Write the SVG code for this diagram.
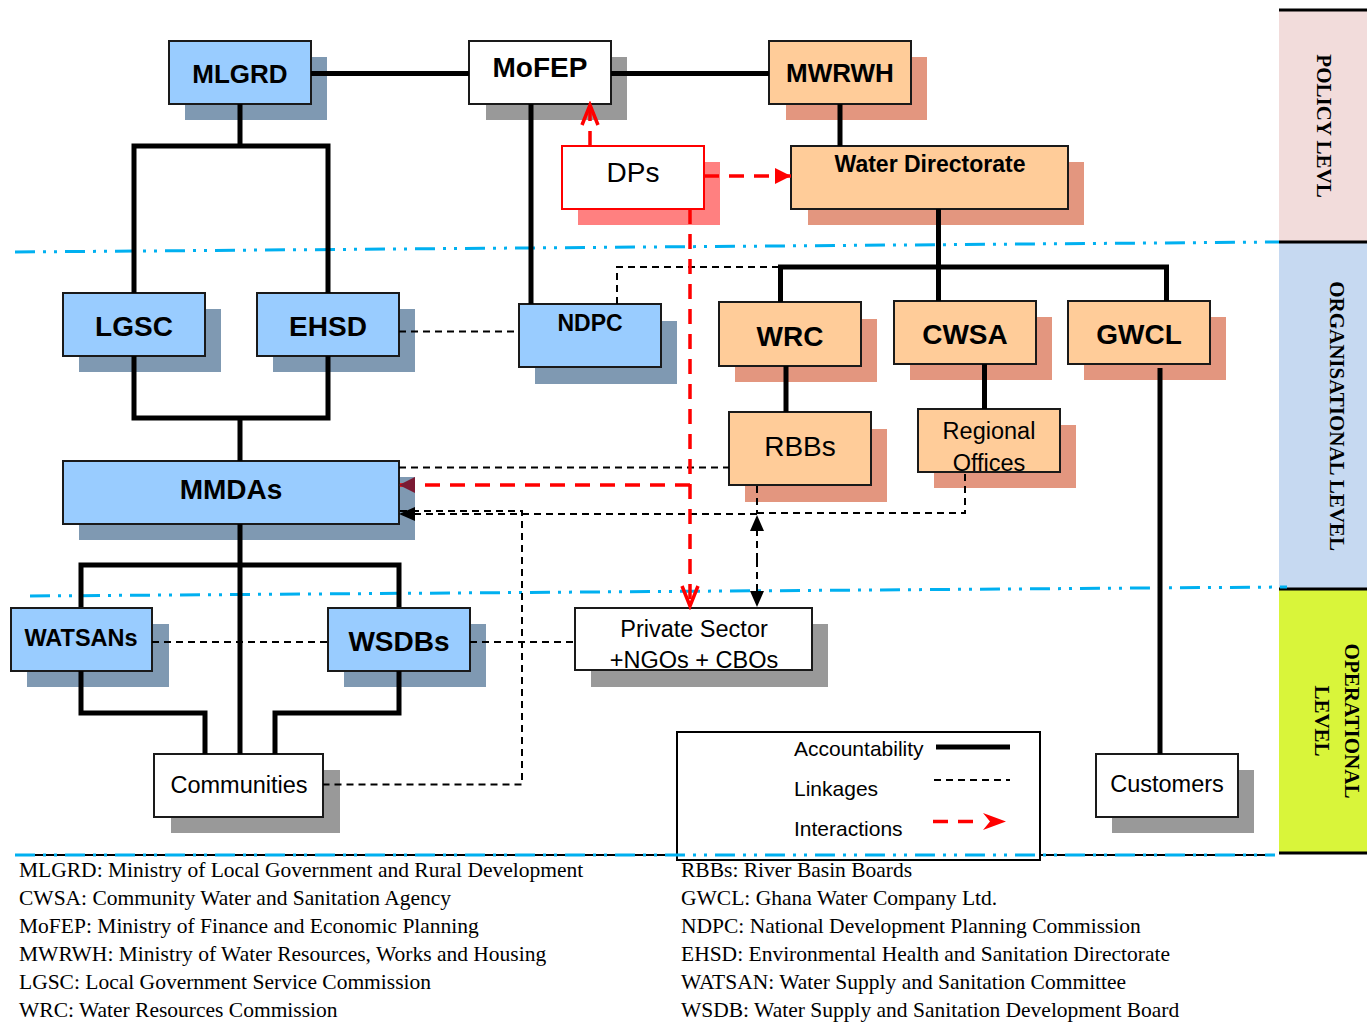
<svg xmlns="http://www.w3.org/2000/svg" width="1371" height="1026" viewBox="0 0 1371 1026">
<defs>
<style>
.box{stroke:#1a1a1a;stroke-width:2}
.blue{fill:#99ccff}
.bsh{fill:#7f99b2}
.peach{fill:#ffcc99}
.psh{fill:#e3967f}
.wht{fill:#ffffff}
.gsh{fill:#999999}
.t{font-family:"Liberation Sans",Arial,sans-serif;text-anchor:middle;fill:#000}
.b{font-weight:bold}
.acc{fill:none;stroke:#000;stroke-width:5}
.lnk{fill:none;stroke:#000;stroke-width:2;stroke-dasharray:7 5}
.int{fill:none;stroke:#ff0000;stroke-width:3.5;stroke-dasharray:15 10}
.lvl{fill:none;stroke:#00b0f0;stroke-width:3;stroke-dasharray:20 8 3 8 3 8}
.ser{font-family:"Liberation Serif","Times New Roman",serif;fill:#000;font-size:21.5px}
.side{font-family:"Liberation Serif","Times New Roman",serif;font-weight:bold;font-size:21px;text-anchor:middle;fill:#000}
</style>
<marker id="ab" markerUnits="userSpaceOnUse" markerWidth="16" markerHeight="14" viewBox="0 0 16 14" refX="16" refY="7" orient="auto"><path d="M0,0 L16,7 L0,14 z" fill="#000"/></marker>
<marker id="ar" markerUnits="userSpaceOnUse" markerWidth="16" markerHeight="16" viewBox="0 0 16 16" refX="16" refY="8" orient="auto"><path d="M0,0 L16,8 L0,16 z" fill="#ff0000"/></marker>
<marker id="ad" markerUnits="userSpaceOnUse" markerWidth="16" markerHeight="16" viewBox="0 0 16 16" refX="16" refY="8" orient="auto"><path d="M0,0 L16,8 L0,16 z" fill="#7b1a33"/></marker>
<marker id="ach" markerUnits="userSpaceOnUse" markerWidth="26" markerHeight="22" viewBox="0 0 26 22" refX="22" refY="11" orient="auto"><path d="M2,3 L22,11 L2,19" fill="none" stroke="#ff0000" stroke-width="3.5"/></marker>
</defs>

<g id="bands">
<rect x="1279" y="10" width="88" height="232" fill="#f2dcdb"/>
<rect x="1279" y="242" width="88" height="347" fill="#c6d9f1"/>
<rect x="1279" y="589" width="88" height="264" fill="#d9f53a"/>
<path d="M1279,10 H1367 M1279,242 H1367 M1279,589 H1367 M1279,853 H1367" stroke="#000" stroke-width="3"/>
<text class="side" transform="translate(1317,126) rotate(90)">POLICY LEVL</text>
<text class="side" transform="translate(1330,416) rotate(90)">ORGANISATIONAL LEVEL</text>
<text class="side" transform="translate(1345,721) rotate(90)">OPERATIONAL</text>
<text class="side" transform="translate(1315,721) rotate(90)">LEVEL</text>
</g>

<g id="level-lines">
<path class="lvl" d="M15,252 L1279,242"/>
<path class="lvl" d="M30,596 L1287,587"/>
</g>

<g id="MLGRD"><rect class="bsh" x="185" y="57" width="142" height="63"/><rect class="box blue" x="169" y="41" width="142" height="63"/><text class="t b" x="240" y="83" font-size="26">MLGRD</text></g>
<g id="MoFEP"><rect class="gsh" x="486" y="57" width="141" height="63"/><rect class="box wht" x="469" y="41" width="142" height="63"/><text class="t b" x="540" y="77" font-size="28">MoFEP</text></g>
<g id="MWRWH"><rect class="psh" x="786" y="57" width="141" height="63"/><rect class="box peach" x="769" y="41" width="142" height="63"/><text class="t b" x="840" y="82" font-size="26">MWRWH</text></g>
<g id="DPs"><rect fill="#ff8080" x="578" y="162" width="142" height="63"/><rect class="wht" stroke="#ff0000" stroke-width="2" x="562" y="146" width="142" height="63"/><text class="t" x="633" y="182" font-size="28">DPs</text></g>
<g id="WaterDirectorate"><rect class="psh" x="808" y="162" width="276" height="63"/><rect class="box peach" x="791" y="146" width="277" height="63"/><text class="t b" x="930" y="172" font-size="23">Water Directorate</text></g>
<g id="LGSC"><rect class="bsh" x="79" y="309" width="142" height="63"/><rect class="box blue" x="63" y="293" width="142" height="63"/><text class="t b" x="134" y="336" font-size="28">LGSC</text></g>
<g id="EHSD"><rect class="bsh" x="273" y="309" width="142" height="63"/><rect class="box blue" x="257" y="293" width="142" height="63"/><text class="t b" x="328" y="336" font-size="28">EHSD</text></g>
<g id="NDPC"><rect class="bsh" x="535" y="321" width="142" height="63"/><rect class="box blue" x="519" y="304" width="142" height="63"/><text class="t b" x="590" y="331" font-size="23">NDPC</text></g>
<g id="WRC"><rect class="psh" x="735" y="319" width="142" height="63"/><rect class="box peach" x="719" y="302" width="142" height="64"/><text class="t b" x="790" y="346" font-size="28">WRC</text></g>
<g id="CWSA"><rect class="psh" x="910" y="317" width="142" height="63"/><rect class="box peach" x="894" y="301" width="142" height="63"/><text class="t b" x="965" y="344" font-size="28">CWSA</text></g>
<g id="GWCL"><rect class="psh" x="1084" y="317" width="142" height="63"/><rect class="box peach" x="1068" y="301" width="142" height="63"/><text class="t b" x="1139" y="344" font-size="28">GWCL</text></g>
<g id="RBBs"><rect class="psh" x="745" y="429" width="142" height="73"/><rect class="box peach" x="729" y="412" width="142" height="73"/><text class="t" x="800" y="456" font-size="28">RBBs</text></g>
<g id="RegionalOffices"><rect class="psh" x="934" y="425" width="142" height="63"/><rect class="box peach" x="918" y="409" width="142" height="63"/><text class="t" x="989" y="439" font-size="23.5">Regional</text><text class="t" x="989" y="471" font-size="23.5">Offices</text></g>
<g id="MMDAs"><rect class="bsh" x="79" y="477" width="336" height="63"/><rect class="box blue" x="63" y="461" width="336" height="63"/><text class="t b" x="231" y="499" font-size="28">MMDAs</text></g>
<g id="WATSANs"><rect class="bsh" x="27" y="624" width="142" height="63"/><rect class="box blue" x="11" y="608" width="141" height="63"/><text class="t b" x="81" y="646" font-size="23.5">WATSANs</text></g>
<g id="WSDBs"><rect class="bsh" x="344" y="624" width="142" height="63"/><rect class="box blue" x="328" y="608" width="142" height="63"/><text class="t b" x="399" y="651" font-size="28">WSDBs</text></g>
<g id="PrivateSector"><rect class="gsh" x="591" y="624" width="237" height="63"/><rect class="box wht" x="575" y="608" width="237" height="62"/><text class="t" x="694" y="637" font-size="23.5">Private Sector</text><text class="t" x="694" y="668" font-size="23.5">+NGOs + CBOs</text></g>
<g id="Communities"><rect class="gsh" x="171" y="770" width="169" height="63"/><rect class="box wht" x="154" y="754" width="169" height="63"/><text class="t" x="239" y="793" font-size="23.5">Communities</text></g>
<g id="Customers"><rect class="gsh" x="1112" y="770" width="142" height="63"/><rect class="box wht" x="1096" y="754" width="142" height="63"/><text class="t" x="1167" y="792" font-size="23.5">Customers</text></g>

<g id="connectors">
<path class="acc" d="M311,73.5 H469 M611,73.5 H769"/>
<path class="acc" d="M240,104 V146 M134,293 V146 H328 V293"/>
<path class="acc" d="M134,356 V418 H328 V356 M240,418 V461"/>
<path class="acc" d="M531,104 V304"/>
<path class="acc" d="M840,104 V146"/>
<path class="acc" d="M938.5,209 V301 M780.5,302 V267 H1166.5 V301"/>
<path class="acc" d="M786,366 V412"/>
<path class="acc" d="M984.5,364 V409"/>
<path class="acc" d="M1160,368 V754"/>
<path class="acc" d="M240,524 V754 M81,607 V565 H399 V607"/>
<path class="acc" d="M81,671 V713 H205 V754"/>
<path class="acc" d="M399,671 V713 H275 V754"/>
<path class="lnk" d="M399,331.5 H519"/>
<path class="lnk" d="M617,304 V267 H780"/>
<path class="lnk" d="M399,467.5 H729"/>
<path class="lnk" d="M757,514 H399" marker-end="url(#ab)"/>
<path class="lnk" d="M757,513 H965 V472"/>
<path class="lnk" d="M400,511 H522 V784.5 H323"/>
<path class="lnk" d="M757,486 V514"/>
<path class="lnk" d="M757,560 V515" marker-end="url(#ab)"/>
<path class="lnk" d="M757,560 V607" marker-end="url(#ab)"/>
<path class="lnk" d="M152,642 H328 M470,642 H575"/>
<path class="int" d="M590,146 V105" marker-end="url(#ach)"/>
<path class="int" d="M704,176 H791" marker-end="url(#ar)"/>
<path class="int" d="M690,209 V606" marker-end="url(#ach)"/>
<path class="int" d="M690,485 H399" marker-end="url(#ad)"/>
</g>

<path d="M15,855 H1275" stroke="#000" stroke-width="2"/>
<g id="legend">
<rect x="677" y="732" width="363" height="128" fill="#fff" stroke="#000" stroke-width="2"/>
<text class="t" x="794" y="756" font-size="21" style="text-anchor:start">Accountability</text>
<text class="t" x="794" y="796" font-size="21" style="text-anchor:start">Linkages</text>
<text class="t" x="794" y="836" font-size="21" style="text-anchor:start">Interactions</text>
<path class="acc" d="M936,747 H1010"/>
<path class="lnk" d="M934,780 H1010" stroke-width="1.5"/>
<path class="int" d="M933,821.5 H983"/>
<path d="M983,813 L1006,821.5 L983,830 L990,821.5 z" fill="#ff0000"/>
</g>
<path class="lvl" d="M15,855 H1275"/>

<g id="abbreviations">
<text class="ser" x="19" y="877">MLGRD: Ministry of Local Government and Rural Development</text>
<text class="ser" x="19" y="905">CWSA: Community Water and Sanitation Agency</text>
<text class="ser" x="19" y="933">MoFEP: Ministry of Finance and Economic Planning</text>
<text class="ser" x="19" y="961">MWRWH: Ministry of Water Resources, Works and Housing</text>
<text class="ser" x="19" y="989">LGSC: Local Government Service Commission</text>
<text class="ser" x="19" y="1017">WRC: Water Resources Commission</text>
<text class="ser" x="681" y="877">RBBs: River Basin Boards</text>
<text class="ser" x="681" y="905">GWCL: Ghana Water Company Ltd.</text>
<text class="ser" x="681" y="933">NDPC: National Development Planning Commission</text>
<text class="ser" x="681" y="961">EHSD: Environmental Health and Sanitation Directorate</text>
<text class="ser" x="681" y="989">WATSAN: Water Supply and Sanitation Committee</text>
<text class="ser" x="681" y="1017">WSDB: Water Supply and Sanitation Development Board</text>
</g>
</svg>
